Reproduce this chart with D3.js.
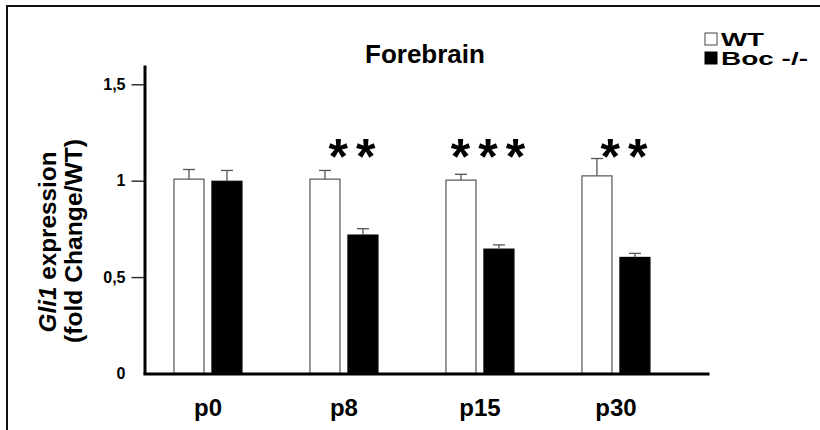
<!DOCTYPE html>
<html>
<head>
<meta charset="utf-8">
<script src="https://cdn.jsdelivr.net/npm/d3@7"></script>
<style>
  body { margin: 0; background: #fff; }
  svg { display: block; font-family: "Liberation Sans", Arial, sans-serif; }
</style>
</head>
<body>
<div id="chart"></div>
<script>
// values
const ages = ["p0", "p8", "p15", "p30"];
const genotypes = ["WT", "Boc -/-"];
const wtValues = [1.008, 1.008, 1.003, 1.025];
const wtErrors = [0.05, 0.045, 0.03, 0.09];
const bocValues = [0.997, 0.718, 0.645, 0.602];
const bocErrors = [0.056, 0.033, 0.022, 0.021];
const significance = ["", "**", "***", "**"];
const yTicks = [0, 0.5, 1, 1.5];

let width = 820, height = 430;

let svg = d3.select("#chart").append("svg")
    .attr("width", width)
    .attr("height", height);

// frame (left + top only)
svg.append("path")
    .attr("d", `M7,${height} L7,6 L${width},6`)
    .attr("fill", "none")
    .attr("stroke", "#111")
    .attr("stroke-width", 2);

let rows = ages.map((a, i) => ({
    age: a,
    sig: significance[i],
    bars: [
        {g: genotypes[0], v: wtValues[i], e: wtErrors[i]},
        {g: genotypes[1], v: bocValues[i], e: bocErrors[i]}
    ]
}));

// scales
let x = d3.scaleBand()
    .domain(ages)
    .range([143, 709])
    .paddingInner(0.5)
    .paddingOuter(0.331)
    .align(0.344);

let xSub = d3.scaleBand()
    .domain(genotypes)
    .range([0, x.bandwidth()])
    .paddingInner(0.2105);

let y = d3.scaleLinear()
    .domain([0, 1.6])
    .range([373.5, 65]);

let color = d3.scaleOrdinal().domain(genotypes).range(["#fff", "#000"]);

// bars
let groups = svg.selectAll(".age")
    .data(rows)
    .enter()
    .append("g")
    .attr("class", "age")
    .attr("transform", d => `translate(${x(d.age)},0)`);

groups.selectAll("rect")
    .data(d => d.bars)
    .enter()
    .append("rect")
    .attr("x", d => xSub(d.g))
    .attr("y", d => y(d.v))
    .attr("width", xSub.bandwidth())
    .attr("height", d => y(0) - y(d.v))
    .attr("fill", d => color(d.g))
    .attr("stroke", d => d.g == "WT" ? "#555" : "#000")
    .attr("stroke-width", 1.2);

// error bars (upper only)
let err = groups.selectAll(".err")
    .data(d => d.bars)
    .enter()
    .append("g")
    .attr("class", "err")
    .attr("stroke", "#555")
    .attr("stroke-width", 1.3);
err.append("line")
    .attr("x1", d => xSub(d.g) + xSub.bandwidth() / 2)
    .attr("x2", d => xSub(d.g) + xSub.bandwidth() / 2)
    .attr("y1", d => y(d.v))
    .attr("y2", d => y(d.v + d.e));
err.append("line")
    .attr("x1", d => xSub(d.g) + xSub.bandwidth() / 2 - 6)
    .attr("x2", d => xSub(d.g) + xSub.bandwidth() / 2 + 6)
    .attr("y1", d => y(d.v + d.e))
    .attr("y2", d => y(d.v + d.e));

// significance stars
groups.append("text")
    .text(d => d.sig)
    .attr("x", x.bandwidth() / 2 + 12)
    .attr("y", 174)
    .attr("text-anchor", "middle")
    .attr("font-size", 50)
    .attr("font-weight", "bold")
    .attr("letter-spacing", 8);

// y axis
let yAxis = svg.append("g")
    .attr("transform", "translate(144.5,0)")
    .call(d3.axisLeft(y)
        .tickValues(yTicks)
        .tickSize(13)
        .tickSizeOuter(0)
        .tickPadding(6)
        .tickFormat(d => String(d).replace(".", ",")));
yAxis.select(".domain").attr("stroke", "#000").attr("stroke-width", 3);
yAxis.selectAll(".tick line").attr("stroke", "#333").attr("stroke-width", 1.5)
    .filter(d => d == 0).remove();
yAxis.selectAll(".tick text")
    .attr("font-family", "'Liberation Sans', Arial, sans-serif")
    .attr("font-size", 16)
    .attr("font-weight", "bold")
    .attr("fill", "#000");

// x axis
let xAxis = svg.append("g")
    .attr("transform", `translate(0,${y(0)})`)
    .call(d3.axisBottom(x).tickSize(0).tickPadding(25).tickSizeOuter(0));
xAxis.select(".domain").attr("stroke", "#000").attr("stroke-width", 3);
xAxis.selectAll(".tick text")
    .attr("font-family", "'Liberation Sans', Arial, sans-serif")
    .attr("font-size", 24)
    .attr("font-weight", "bold")
    .attr("fill", "#000");

// y label, two lines
let ylab = svg.append("g").attr("font-weight", "bold").attr("font-size", 24).attr("text-anchor", "middle");
let l1 = ylab.append("text")
    .attr("transform", "translate(56,242) rotate(-90)")
    .attr("textLength", 181)
    .attr("lengthAdjust", "spacingAndGlyphs");
l1.append("tspan").attr("font-style", "italic").text("Gli1");
l1.append("tspan").text(" expression");
ylab.append("text")
    .attr("transform", "translate(82,241) rotate(-90)")
    .attr("textLength", 204)
    .attr("lengthAdjust", "spacingAndGlyphs")
    .text("(fold Change/WT)");

// title
svg.append("text")
    .attr("x", 425)
    .attr("y", 63)
    .attr("text-anchor", "middle")
    .attr("font-size", 26)
    .attr("font-weight", "bold")
    .text("Forebrain");

// legend
let legend = svg.selectAll(".legend")
    .data(genotypes)
    .enter()
    .append("g")
    .attr("class", "legend")
    .attr("transform", (d, i) => `translate(705,${33 + i * 19})`);
legend.append("rect")
    .attr("width", 12)
    .attr("height", 12)
    .attr("fill", d => color(d))
    .attr("stroke", d => d == "WT" ? "#444" : "#000")
    .attr("stroke-width", 1);
legend.append("text")
    .attr("x", 16)
    .attr("y", 13)
    .attr("font-size", 18)
    .attr("font-weight", "bold")
    .attr("textLength", d => d == "WT" ? 43 : 87)
    .attr("lengthAdjust", "spacingAndGlyphs")
    .text(d => d);
</script>
</body>
</html>
